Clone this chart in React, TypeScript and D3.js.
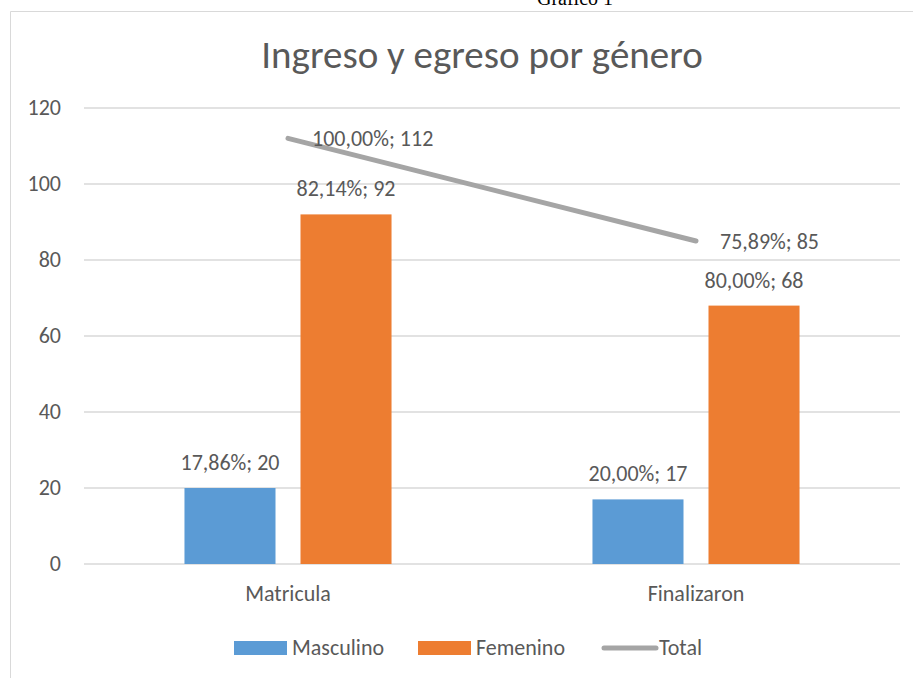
import * as d3 from "d3";

const categories = ["Matricula", "Finalizaron"];
const masculino = [20, 17];
const femenino = [92, 68];
const total = [112, 85];
const masculinoPct = ["17,86%", "20,00%"];
const femeninoPct = ["82,14%", "80,00%"];
const totalPct = ["100,00%", "75,89%"];
const yTicks = [0, 20, 40, 60, 80, 100, 120];
const seriesNames = ["Masculino", "Femenino"];

const W = 913, H = 678;
const FONT = "Carlito, 'Liberation Sans', Arial, sans-serif";
const TEXT = "#595959";
const BLUE = "#5B9BD5", ORANGE = "#ED7D31", GREY = "#A5A5A5";
const FS = 22;

export default function App() {
  const x = d3.scaleBand<string>().domain(categories).range([84, 900]);
  const xs = d3.scaleBand<string>().domain(seriesNames).range([0, x.bandwidth()]).paddingInner(0.2155).paddingOuter(0.866);
  const y = d3.scaleLinear().domain([0, 120]).range([564, 108]);
  const center = (c: string) => (x(c) ?? 0) + x.bandwidth() / 2;
  const line = d3.line<number>().x((_d, i) => center(categories[i])).y((d) => y(d));

  const bars = [
    { name: "Masculino", values: masculino, pct: masculinoPct, color: BLUE },
    { name: "Femenino", values: femenino, pct: femeninoPct, color: ORANGE },
  ];

  return (
    <svg width={W} height={H} style={{ position: "absolute", left: 0, top: 0 }} fontFamily={FONT}>
      <rect width={W} height={H} fill="#fff" />
      <text x={575} y={5} textAnchor="middle" fontFamily="'Liberation Serif', serif" fontSize={20} fill="#000">Gráfico 1</text>
      {/* chart frame */}
      <path d={`M10.5,${H} V11.5 H${W}`} fill="none" stroke="#D9D9D9" strokeWidth={1} />
      <text x={482} y={68} textAnchor="middle" fontSize={39} fill={TEXT}>Ingreso y egreso por género</text>

      {yTicks.map((t) => (
        <g key={t}>
          <line x1={84} x2={900} y1={y(t)} y2={y(t)} stroke="#D9D9D9" strokeWidth={1.5} />
          <text x={61} y={y(t) + 7} textAnchor="end" fontSize={FS} fill={TEXT}>{t}</text>
        </g>
      ))}

      {bars.map((s) =>
        categories.map((c, i) => {
          const bx = (x(c) ?? 0) + (xs(s.name) ?? 0);
          return (
            <g key={s.name + c}>
              <rect x={bx} y={y(s.values[i])} width={xs.bandwidth()} height={y(0) - y(s.values[i])} fill={s.color} />
              <text x={bx + xs.bandwidth() / 2} y={y(s.values[i]) - 18} textAnchor="middle" fontSize={FS} fill={TEXT}>
                {`${s.pct[i]}; ${s.values[i]}`}
              </text>
            </g>
          );
        })
      )}

      <path d={line(total) ?? ""} fill="none" stroke={GREY} strokeWidth={5} strokeLinecap="round" />
      {categories.map((c, i) => (
        <text key={c} x={center(c) + 24} y={y(total[i]) + 8} fontSize={FS} fill={TEXT}>{`${totalPct[i]}; ${total[i]}`}</text>
      ))}

      {categories.map((c) => (
        <text key={c} x={center(c)} y={601} textAnchor="middle" fontSize={FS} fill={TEXT}>{c}</text>
      ))}

      {/* legend */}
      <rect x={234} y={641} width={53} height={14} fill={BLUE} />
      <text x={292} y={655} fontSize={FS} fill={TEXT}>Masculino</text>
      <rect x={418} y={641} width={53} height={14} fill={ORANGE} />
      <text x={476} y={655} fontSize={FS} fill={TEXT}>Femenino</text>
      <line x1={604} x2={656} y1={648} y2={648} stroke={GREY} strokeWidth={5} strokeLinecap="round" />
      <text x={659} y={655} fontSize={FS} fill={TEXT}>Total</text>
    </svg>
  );
}
